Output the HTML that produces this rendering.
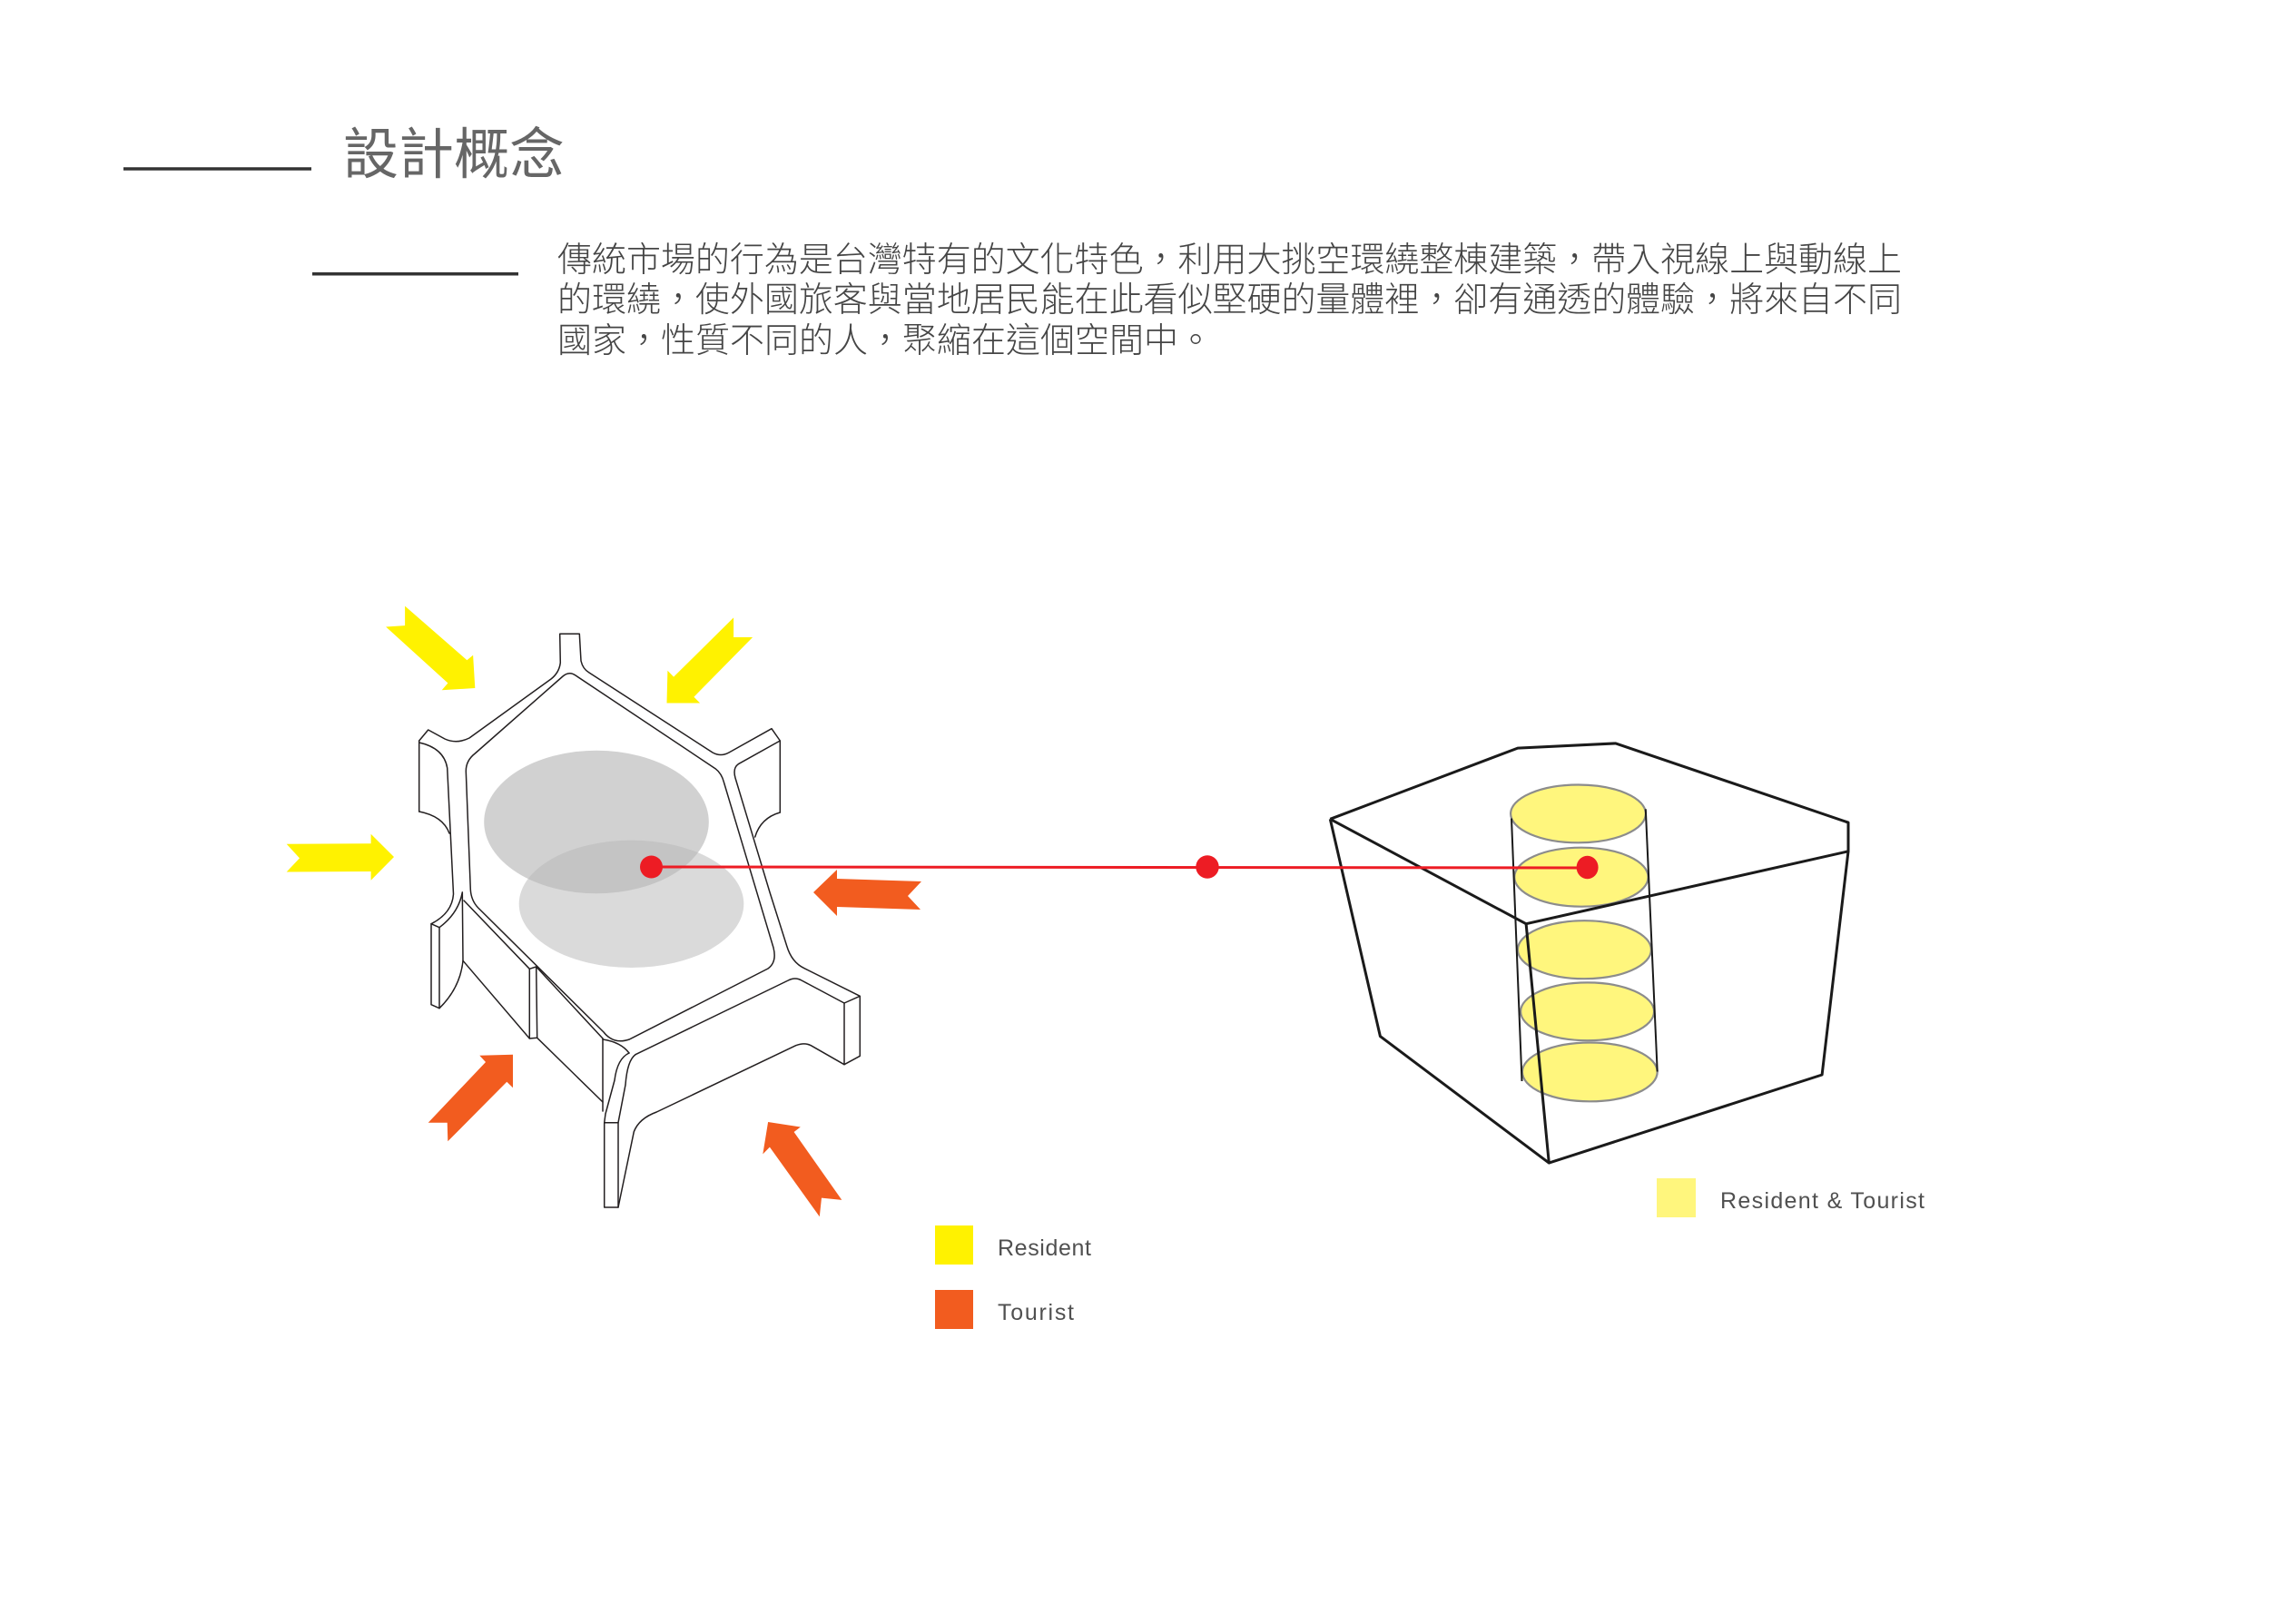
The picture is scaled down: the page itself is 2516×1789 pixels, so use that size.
<!DOCTYPE html>
<html>
<head>
<meta charset="utf-8">
<style>
  html,body{margin:0;padding:0;background:#fff;}
  body{width:2516px;height:1789px;overflow:hidden;}
  svg{display:block;}
  .cjk{font-family:"Liberation Sans","Noto Sans CJK TC",sans-serif;}
  .lat{font-family:"Liberation Sans",sans-serif;}
</style>
</head>
<body>
<svg width="2516" height="1789" viewBox="0 0 2516 1789" xmlns="http://www.w3.org/2000/svg">
  <rect x="0" y="0" width="2516" height="1789" fill="#fff"/>

  <!-- Header -->
  <line x1="136" y1="186" x2="343" y2="186" stroke="#333" stroke-width="3.5"/>
  <text class="cjk" x="378" y="191" font-size="61" fill="#666">設計概念</text>
  <line x1="344" y1="301.7" x2="571" y2="301.7" stroke="#333" stroke-width="3.5"/>

  <g class="cjk" font-size="38" fill="#454545" font-weight="300">
    <text x="614" y="299" textLength="1481" lengthAdjust="spacing">傳統市場的行為是台灣特有的文化特色，利用大挑空環繞整棟建築，帶入視線上與動線上</text>
    <text x="614" y="343" textLength="1481" lengthAdjust="spacing">的環繞，使外國旅客與當地居民能在此看似堅硬的量體裡，卻有通透的體驗，將來自不同</text>
    <text x="614" y="388">國家，性質不同的人，聚縮在這個空間中。</text>
  </g>

  <!-- Left diagram: gray ellipses -->
  <ellipse cx="657" cy="905.5" rx="123.8" ry="78.8" fill="#d1d1d1"/>
  <ellipse cx="695.5" cy="995.8" rx="123.8" ry="70.2" fill="#b8b8b8" fill-opacity="0.52"/>

  <!-- Building line drawing -->
  <g fill="none" stroke="#231f20" stroke-width="1.5" stroke-linejoin="round" stroke-linecap="round">
    <path d="M461.7,816 L471.7,804 L490,814 Q503,820 517,813 L607,748 Q616,741 617.3,730 L616.7,698.3 L638.3,698.3 L640,728 Q642,737 649,741 L785,829 Q794,834 803,829 L850,802.7 L859.3,816 L859.3,895"/>
    <path d="M461.7,816 L461.7,894"/>
    <path d="M461.7,818 Q489,824 492.7,846 L499.5,985 Q498,1006 475,1017.7 L475,1106.7 L484,1110.7 L484,1021.7 Q505,1006 509.3,983"/>
    <path d="M475,1017.7 L484,1021.7"/>
    <path d="M461.7,894 Q488,899 495,918"/>
    <path d="M859.3,816 L813.3,841.7 Q807,846 810,857 L848,983 L866.7,1042 Q872,1060 886,1066.7 L947.3,1097.3 L947.3,1163.3 L930,1172.7 L930,1105 L947.3,1097.3"/>
    <path d="M859.3,895 Q838,901 831.7,922"/>
    <path d="M484,1110.7 Q507,1088 510,1058.3"/>
    <path d="M509.3,983 L510,1058.3 L583.3,1144"/>
    <path d="M583.3,1067.3 L590.7,1065 L591.7,1143.3 L583.3,1144 Z"/>
    <path d="M511,992 L583.3,1067.3"/>
    <path d="M590.7,1065 L664,1144"/>
    <path d="M591.7,1143.3 L664,1214"/>
    <path d="M664,1144 L664,1224"/>
    <path d="M664,1145 Q684,1148 693,1160"/>
    <path d="M693,1160 Q680,1166 677,1190 L667,1227 L665.7,1236.7 L665.7,1330 L681,1330 L681,1236.7 L665.7,1236.7"/>
    <path d="M700,1161.7 Q691,1168 689,1195 L681,1236.7"/>
    <path d="M681,1330 L698.3,1246.7 Q704,1232 723.3,1225 L876.7,1151.7 Q886,1148 893.3,1151.7 L930,1172.7"/>
    <path d="M700,1161.7 L868.3,1080 Q876,1076 883,1080 L930,1105"/>
    <path d="M620,745 Q627,739 634,744 L788,846.7 Q795,852 797.5,862 L852,1044 Q856,1060 846,1067 L693.3,1145 Q676,1151 665,1137 L526.7,1000 Q519,992 518.3,980 L513.3,850 Q513,838 523.3,830 Z"/>
  </g>

  <!-- Yellow arrows (Resident) -->
  <g fill="#fff200">
    <polygon points="446.1,667.6 514.4,727.2 521.1,721.7 523.3,758 486.7,760.3 493.4,752.5 425.1,690.5 446.1,689.1"/>
    <polygon points="808.1,680.4 808.1,702 829.1,702 764.4,767.7 771.1,774.5 734.5,774.5 735.4,738.7 742.1,745.6"/>
    <polygon points="315.7,929.7 408.6,929.3 408.6,918.7 434,944 408.6,969.7 408.6,960 315.7,960.5 330,945.4"/>
  </g>

  <!-- Orange arrows (Tourist) -->
  <g fill="#f25c1f">
    <polygon points="528.3,1162.7 565,1161.7 565,1198.3 558.3,1191.7 493.3,1257.3 492.7,1236.7 471.7,1236.7 535,1170"/>
    <polygon points="846.1,1236 881.8,1241.5 874.6,1247 927.3,1321.9 905,1319.6 902.8,1340.2 847.9,1263.6 840.3,1271.4"/>
    <polygon points="896,983 922,958 922,968 1015,971 1000,987 1014,1002 922,999 922,1009"/>
  </g>

  <!-- Right diagram: cylinder of ellipses -->
  <g fill="#fff67d" stroke="#8c8c8c" stroke-width="2.2">
    <ellipse cx="1738.5" cy="896.4" rx="74.4" ry="31.9"/>
    <ellipse cx="1741.9" cy="966.2" rx="73.7" ry="32.5"/>
    <ellipse cx="1745.4" cy="1046.2" rx="73.5" ry="32"/>
    <ellipse cx="1748.6" cy="1114.3" rx="73.5" ry="31.9"/>
    <ellipse cx="1751.3" cy="1180.9" rx="74.4" ry="32.4"/>
  </g>
  <g stroke="#1a1a1a" stroke-width="2" fill="none">
    <line x1="1665" y1="901.6" x2="1676.5" y2="1191"/>
    <line x1="1812.8" y1="891.3" x2="1825.7" y2="1180.5"/>
  </g>

  <!-- Box -->
  <g stroke="#1a1a1a" stroke-width="3" fill="none" stroke-linejoin="round">
    <polyline points="1465.3,902.3 1671.9,824.1 1779.8,818.9 2036,906.1 2036,937.8 1681.1,1017.7 1465.3,902.3"/>
    <polyline points="1465.3,902.3 1520.4,1141.6 1706.3,1281.1 2007.1,1184 2036,937.8"/>
    <line x1="1681.1" y1="1017.7" x2="1706.3" y2="1281.1"/>
  </g>

  <!-- Red connector -->
  <line x1="717" y1="955" x2="1749" y2="956" stroke="#ed1c24" stroke-width="3"/>
  <circle cx="717.5" cy="955" r="12.5" fill="#ed1c24"/>
  <circle cx="1330" cy="955" r="12.7" fill="#ed1c24"/>
  <ellipse cx="1748.6" cy="955.5" rx="12" ry="12.7" fill="#ed1c24"/>

  <!-- Legend -->
  <rect x="1030" y="1350" width="42" height="43" fill="#fff200"/>
  <rect x="1030" y="1421" width="42" height="43" fill="#f25c1f"/>
  <rect x="1825" y="1298" width="43" height="43" fill="#fff67d"/>
  <g class="lat" font-size="25" fill="#505050">
    <text x="1099" y="1383" textLength="103" lengthAdjust="spacing">Resident</text>
    <text x="1099" y="1454" textLength="84" lengthAdjust="spacing">Tourist</text>
    <text x="1895" y="1331" textLength="225" lengthAdjust="spacing">Resident &amp; Tourist</text>
  </g>
</svg>
</body>
</html>
